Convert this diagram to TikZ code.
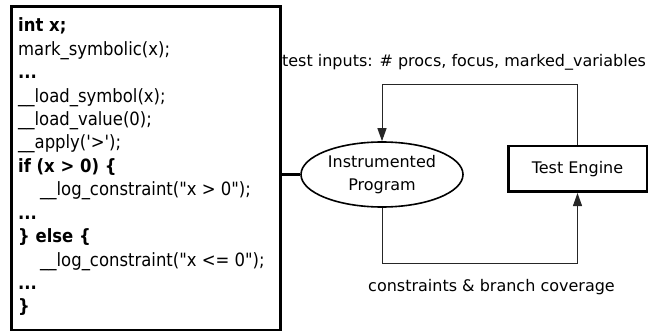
\documentclass[tikz,border=0pt]{standalone}
\usepackage{fontspec}
\setmainfont{DejaVu Sans}
\newfontfamily\codefont{DejaVu Sans Condensed}
\usetikzlibrary{arrows.meta,shapes.geometric}

\tikzset{
  codeline/.style={anchor=base west, inner sep=0pt,
    font=\codefont\fontsize{18.3}{20}\selectfont},
  kw/.style={codeline, font=\codefont\bfseries\fontsize{18.3}{20}\selectfont},
  label/.style={font=\fontsize{16}{23}\selectfont, inner sep=0pt},
  flow/.style={line width=1pt, draw=black!85,
    -{Triangle[length=13pt,width=9pt]}},
}

\begin{document}
\begin{tikzpicture}[x=1pt, y=-1pt]
\useasboundingbox (0,0) rectangle (650,331);

% instrumented source listing
\node (code) [draw, line width=3pt, anchor=north west, inner sep=0pt,
  minimum width=269pt, minimum height=323pt] at (9.5,5.5) {};

\node (l1)  [kw]       at (18, 32.0)  {int x;};
\node (l2)  [codeline] at (18, 55.4)  {mark\_symbolic(x);};
\node (l3)  [kw]       at (18, 78.8)  {...};
\node (l4)  [codeline] at (18, 102.2) {\_\_load\_symbol(x);};
\node (l5)  [codeline] at (18, 125.6) {\_\_load\_value(0);};
\node (l6)  [codeline] at (18, 149.0) {\_\_apply(\textquotesingle>\textquotesingle);};
\node (l7)  [kw]       at (18, 172.4) {if (x > 0) \{};
\node (l8)  [codeline] at (40, 195.8) {\_\_log\_constraint("x > 0");};
\node (l9)  [kw]       at (18, 219.2) {...};
\node (l10) [kw]       at (18, 242.6) {\} else \{};
\node (l11) [codeline] at (40, 266.0) {\_\_log\_constraint("x <= 0");};
\node (l12) [kw]       at (18, 289.4) {...};
\node (l13) [kw]       at (18, 312.8) {\}};

% test loop
\node (prog) [ellipse, draw, line width=1.6pt, inner sep=0pt, align=center,
  minimum width=162pt, minimum height=65pt, label]
  at (382,174.5) {Instrumented\\Program};
\node (eng) [draw, line width=2.5pt, minimum width=138.5pt,
  minimum height=45.5pt, label] at (577.5,169) {Test Engine};

\draw[line width=3.5pt] (code.east |- prog.west) -- (prog.west);

\draw[flow] (eng.north) -- ++(0,-60) -| (prog.north);
\draw[flow] (prog.south) -- ++(0,56) -| (eng.south);

\node (inlbl)  [label] at (464,62)    {test inputs: \# procs, focus, marked\_variables};
\node (outlbl) [label] at (491.5,287) {constraints \& branch coverage};
\end{tikzpicture}
\end{document}
